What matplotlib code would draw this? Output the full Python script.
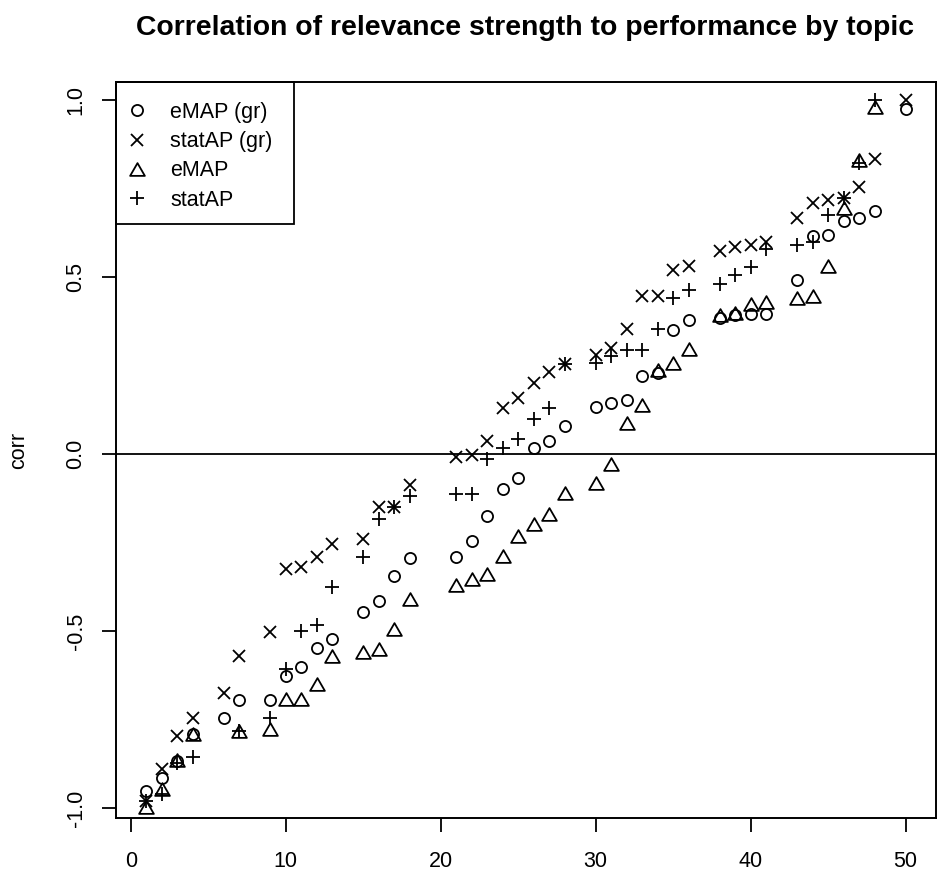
import numpy as np
import matplotlib
matplotlib.use("Agg")
import matplotlib.pyplot as plt
from matplotlib.lines import Line2D
from matplotlib.patches import Rectangle
from matplotlib.path import Path

plt.rcParams['font.family'] = ['Liberation Sans', 'DejaVu Sans']

title = "Correlation of relevance strength to performance by topic"
ylabel = "corr"
series_names = ["eMAP (gr)", "statAP (gr)", "eMAP", "statAP"]

topic = [1, 2, 3, 4, 6, 7, 9, 10, 11, 12, 13, 15, 16, 17, 18, 21, 22, 23, 24, 25,
         26, 27, 28, 30, 31, 32, 33, 34, 35, 36, 38, 39, 40, 41, 43, 44, 45, 46, 47, 48, 50]

emap_gr = [-0.950, -0.915, -0.865, -0.789, -0.745, -0.695, -0.695, -0.626, -0.600, -0.547,
           -0.523, -0.444, -0.413, -0.343, -0.293, -0.291, -0.246, -0.174, -0.099, -0.066,
           0.019, 0.037, 0.080, 0.133, 0.145, 0.153, 0.221, 0.228, 0.352, 0.380,
           0.385, 0.392, 0.397, 0.397, 0.492, 0.615, 0.620, 0.658, 0.667, 0.688, 0.974]

statap_gr = [-0.980, -0.890, -0.795, -0.746, -0.673, -0.570, -0.502, -0.325, -0.319, -0.291,
             -0.254, -0.240, -0.148, -0.150, -0.087, -0.009, -0.003, 0.036, 0.131, 0.160,
             0.200, 0.232, 0.254, 0.279, 0.300, 0.354, 0.446, 0.446, 0.519, 0.532,
             0.575, 0.585, 0.592, 0.598, 0.667, 0.709, 0.717, 0.723, 0.754, 0.833, 1.000]

emap = [-0.997, -0.944, -0.862, -0.789, np.nan, -0.782, -0.775, -0.692, -0.692, -0.648,
        -0.569, -0.557, -0.549, -0.493, -0.408, -0.369, -0.352, -0.338, -0.287, -0.231,
        -0.197, -0.169, -0.108, -0.082, -0.028, 0.087, 0.138, 0.239, 0.258, 0.298,
        0.394, 0.399, 0.425, 0.429, 0.441, 0.448, 0.532, 0.695, 0.831, 0.981, np.nan]

statap = [-0.980, -0.960, -0.873, -0.856, np.nan, -0.780, -0.746, -0.606, -0.500, -0.482,
          -0.376, -0.291, -0.183, -0.150, -0.117, -0.111, -0.111, -0.012, 0.019, 0.042,
          0.099, 0.131, 0.254, 0.258, 0.277, 0.294, 0.294, 0.354, 0.441, 0.465,
          0.482, 0.505, 0.530, 0.579, 0.592, 0.598, 0.676, 0.723, 0.822, 1.000, np.nan]

xticks = [0, 10, 20, 30, 40, 50]
yticks = [-1.0, -0.5, 0.0, 0.5, 1.0]
yticklabels = ["-1.0", "-0.5", "0.0", "0.5", "1.0"]

W, H = 938, 873
fig = plt.figure(figsize=(W / 100, H / 100), dpi=100)
L, R, T, B = 116, 936, 82, 818
ax = fig.add_axes([L / W, 1 - B / H, (R - L) / W, (B - T) / H])

tri = Path([(0, 0.75), (-0.866, -0.75), (0.866, -0.75), (0, 0.75)],
           [Path.MOVETO, Path.LINETO, Path.LINETO, Path.CLOSEPOLY])

mew = 1.3
styles = [
    dict(marker='o', ms=8.0),
    dict(marker='x', ms=8.4),
    dict(marker=tri, ms=10.6),
    dict(marker='+', ms=10.6),
]
data = [emap_gr, statap_gr, emap, statap]

handles = []
for vals, st, name in zip(data, styles, series_names):
    ax.plot(topic, vals, linestyle='none', marker=st['marker'], markersize=st['ms'],
            markerfacecolor='none', markeredgecolor='black', markeredgewidth=mew,
            clip_on=False, zorder=3)
    handles.append(Line2D([], [], linestyle='none', marker=st['marker'],
                          markersize=st['ms'], markerfacecolor='none',
                          markeredgecolor='black', markeredgewidth=mew))

# R-style axis ranges (4% extension of the first series' range)
xr = max(topic) - min(topic)
ax.set_xlim(min(topic) - 0.04 * xr, max(topic) + 0.04 * xr)
y0 = np.nanmin(emap_gr); y1 = np.nanmax(emap_gr); yr = y1 - y0
ax.set_ylim(y0 - 0.04 * yr, y1 + 0.04 * yr)

ax.axhline(0, color='black', lw=1.3, zorder=2)

ax.set_xticks(xticks)
ax.set_xticklabels([str(v) for v in xticks])
ax.set_yticks(yticks)
ax.set_yticklabels(yticklabels)
ax.tick_params(axis='both', direction='out', length=10.3, width=1.3,
               labelsize=15.5, colors='black')
ax.tick_params(axis='x', pad=13.6)
ax.tick_params(axis='y', pad=10.9, labelrotation=90)
for lab in ax.get_yticklabels():
    lab.set_va('center')
for sp in ax.spines.values():
    sp.set_linewidth(1.4)
    sp.set_color('black')

fig.text(525 / W, 1 - 15 / H, title, ha='center', va='top',
         fontsize=20.4, fontweight='bold')
fig.text(29.5 / W, 1 - ((T + B) / 2) / H, ylabel, rotation=90, ha='right',
         va='center', fontsize=15.5)

# legend
leg = ax.legend(handles, series_names, loc='upper left',
                bbox_to_anchor=((126 - L) / (R - L), 1 - (102 - T) / (B - T)),
                frameon=False, borderpad=0, borderaxespad=0, fontsize=15.5,
                labelspacing=0.38, handlelength=1.0, handletextpad=1.05)
ax.add_patch(Rectangle((0, 1 - (224 - T) / (B - T)), (294 - L) / (R - L), (224 - T) / (B - T),
                       transform=ax.transAxes, fill=False, lw=1.3, ec='black',
                       clip_on=False, zorder=4))

fig.savefig("out.png", dpi=100)
